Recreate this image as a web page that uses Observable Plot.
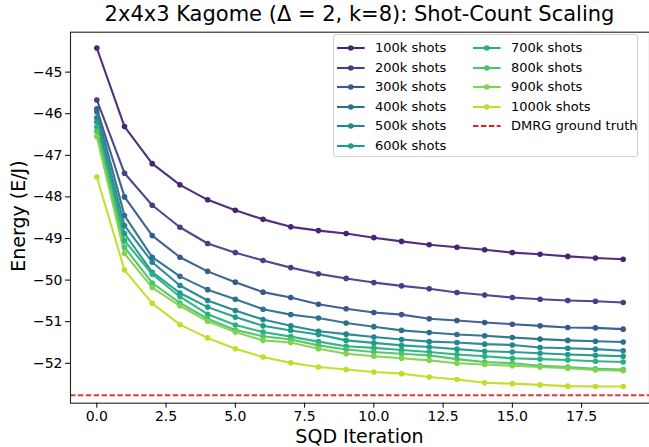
<!DOCTYPE html>
<html><head><meta charset="utf-8">
<script src="https://cdn.jsdelivr.net/npm/d3@7"></script>
<script src="https://cdn.jsdelivr.net/npm/@observablehq/plot@0.6"></script>
<style>
body{margin:0;background:#fff;font-family:"DejaVu Sans",sans-serif;}
#wrap{position:relative;width:649px;height:447px;overflow:hidden;background:#fff;}
#wrap svg{position:absolute;left:0;top:0;}
.lbl{position:absolute;color:#000;white-space:nowrap;line-height:1.164;}
#legend{position:absolute;left:333px;top:34px;width:305px;height:123px;border:1px solid #d0d0d0;border-radius:3px;background:rgba(255,255,255,0.8);box-sizing:border-box;}
.entry{position:absolute;height:16px;line-height:16px;font-size:13px;white-space:nowrap;}
.entry svg{position:absolute;left:0;top:0;}
.entry span{position:absolute;top:0;}
</style></head>
<body><div id="wrap"></div>
<script>
const iterations = [0,1,2,3,4,5,6,7,8,9,10,11,12,13,14,15,16,17,18,19];
const shots100k  = [-44.42,-46.31,-47.20,-47.71,-48.07,-48.32,-48.54,-48.72,-48.81,-48.88,-48.98,-49.07,-49.15,-49.21,-49.27,-49.34,-49.38,-49.43,-49.47,-49.50];
const shots200k  = [-45.67,-47.43,-48.20,-48.73,-49.12,-49.34,-49.53,-49.70,-49.85,-49.96,-50.06,-50.14,-50.21,-50.30,-50.36,-50.42,-50.46,-50.49,-50.51,-50.54];
const shots300k  = [-45.88,-48.00,-48.93,-49.45,-49.79,-50.05,-50.29,-50.42,-50.58,-50.69,-50.78,-50.83,-50.93,-50.97,-51.02,-51.06,-51.10,-51.14,-51.15,-51.18];
const shots400k  = [-45.95,-48.45,-49.45,-49.91,-50.23,-50.46,-50.70,-50.83,-50.91,-51.03,-51.12,-51.21,-51.26,-51.31,-51.34,-51.38,-51.42,-51.45,-51.47,-51.49];
const shots500k  = [-46.10,-48.69,-49.57,-50.13,-50.49,-50.73,-50.95,-51.10,-51.23,-51.30,-51.37,-51.43,-51.48,-51.50,-51.54,-51.56,-51.62,-51.64,-51.66,-51.70];
const shots600k  = [-46.20,-48.88,-49.81,-50.31,-50.65,-50.89,-51.10,-51.21,-51.31,-51.45,-51.51,-51.57,-51.61,-51.66,-51.71,-51.73,-51.76,-51.79,-51.81,-51.83];
const shots700k  = [-46.32,-49.05,-49.86,-50.40,-50.82,-51.08,-51.25,-51.36,-51.48,-51.59,-51.63,-51.68,-51.73,-51.79,-51.83,-51.88,-51.90,-51.92,-51.95,-51.97];
const shots800k  = [-46.42,-49.21,-50.07,-50.55,-50.93,-51.20,-51.35,-51.43,-51.57,-51.67,-51.73,-51.77,-51.81,-51.90,-51.97,-52.00,-52.06,-52.09,-52.13,-52.15];
const shots900k  = [-46.55,-49.36,-50.18,-50.62,-50.99,-51.25,-51.45,-51.50,-51.65,-51.77,-51.83,-51.88,-51.93,-52.00,-52.03,-52.06,-52.09,-52.12,-52.16,-52.18];
const shots1000k = [-47.52,-49.76,-50.56,-51.07,-51.39,-51.65,-51.85,-51.99,-52.09,-52.15,-52.21,-52.25,-52.33,-52.39,-52.47,-52.49,-52.52,-52.55,-52.56,-52.56];
const seriesLabels = ["100k shots","200k shots","300k shots","400k shots","500k shots","600k shots","700k shots","800k shots","900k shots","1000k shots"];
const dmrgEnergy = -52.77;
const dmrgLabel = "DMRG ground truth";
const xTicks = [0, 2.5, 5, 7.5, 10, 12.5, 15, 17.5];
const yTicks = [-52, -51, -50, -49, -48, -47, -46, -45];
const titleText = "2x4x3 Kagome (Δ = 2, k=8): Shot-Count Scaling";
const xLabel = "SQD Iteration";
const yLabel = "Energy (E/J)";

const allSeries = [shots100k,shots200k,shots300k,shots400k,shots500k,shots600k,shots700k,shots800k,shots900k,shots1000k];
const colors = seriesLabels.map((_, i) => d3.interpolateViridis(0.1 + 0.8 * i / 9));
const dmrgColor = "#d62728";

const rows = [];
allSeries.forEach((vals, si) => vals.forEach((v, i) => rows.push({x: iterations[i], y: v, s: seriesLabels[si]})));

const chart = Plot.plot({
  width: 649, height: 447,
  marginTop: 31.7, marginLeft: 70, marginRight: 0, marginBottom: 44.3,
  style: {fontFamily: "DejaVu Sans", background: "transparent", color: "#000"},
  x: {domain: [-0.95, 19.95]},
  y: {domain: [-52.96, -44.04]},
  color: {domain: seriesLabels, range: colors},
  marks: [
    Plot.line(rows, {x: "x", y: "y", z: "s", stroke: "s", strokeWidth: 2.1, strokeOpacity: 0.95}),
    Plot.dot(rows, {x: "x", y: "y", fill: "s", r: 2.8, stroke: null}),
    Plot.ruleY([dmrgEnergy], {stroke: dmrgColor, strokeWidth: 2, strokeDasharray: "5.5,2.4", strokeOpacity: 0.9}),
    Plot.frame({stroke: "#222", strokeWidth: 1.1}),
    Plot.axisX({ticks: xTicks, tickFormat: d3.format(".1f"), fontSize: 14, tickSize: 5, tickPadding: 3, label: null}),
    Plot.axisY({ticks: yTicks, tickFormat: d3.format("d"), fontSize: 14, tickSize: 5, tickPadding: 3, label: null})
  ]
});
const wrap = document.getElementById("wrap");
wrap.appendChild(chart);

function addLabel(text, css) {
  const d = document.createElement("div");
  d.className = "lbl";
  d.textContent = text;
  Object.assign(d.style, css);
  wrap.appendChild(d);
  return d;
}
addLabel(titleText, {left: "70px", width: "579px", textAlign: "center", top: "2px", fontSize: "21px"});
addLabel(xLabel, {left: "70px", width: "579px", textAlign: "center", top: "425px", fontSize: "19px"});
addLabel(yLabel, {left: "-42px", width: "120px", textAlign: "center", top: "205px", fontSize: "19px", transform: "rotate(-90deg)", transformOrigin: "center center"});

// legend
const legend = document.createElement("div");
legend.id = "legend";
wrap.appendChild(legend);
const entries = seriesLabels.map((l, i) => ({label: l, color: colors[i], dashed: false}));
entries.push({label: dmrgLabel, color: dmrgColor, dashed: true});
entries.forEach((e, i) => {
  const col = i < 6 ? 0 : 1;
  const row = col === 0 ? i : i - 6;
  const hx = col === 0 ? 337 : 473;
  const tx = col === 0 ? 375 : 511;
  const cy = 48.3 + row * 19.5;
  const div = document.createElement("div");
  div.className = "entry";
  div.style.left = (hx - 334) + "px";
  div.style.top = (cy - 8 - 35) + "px";
  const svgNS = "http://www.w3.org/2000/svg";
  const s = document.createElementNS(svgNS, "svg");
  s.setAttribute("width", 30); s.setAttribute("height", 16);
  const ln = document.createElementNS(svgNS, "line");
  ln.setAttribute("x1", 0); ln.setAttribute("x2", 27.6);
  ln.setAttribute("y1", 8); ln.setAttribute("y2", 8);
  ln.setAttribute("stroke", e.color);
  ln.setAttribute("stroke-width", e.dashed ? 2 : 2.1);
  if (e.dashed) ln.setAttribute("stroke-dasharray", "5.5,2.4");
  s.appendChild(ln);
  if (!e.dashed) {
    const c = document.createElementNS(svgNS, "circle");
    c.setAttribute("cx", 13.8); c.setAttribute("cy", 8); c.setAttribute("r", 2.8);
    c.setAttribute("fill", e.color);
    s.appendChild(c);
  }
  div.appendChild(s);
  const sp = document.createElement("span");
  sp.textContent = e.label;
  sp.style.left = (tx - hx) + "px";
  div.appendChild(sp);
  legend.appendChild(div);
});
</script>
</body></html>
